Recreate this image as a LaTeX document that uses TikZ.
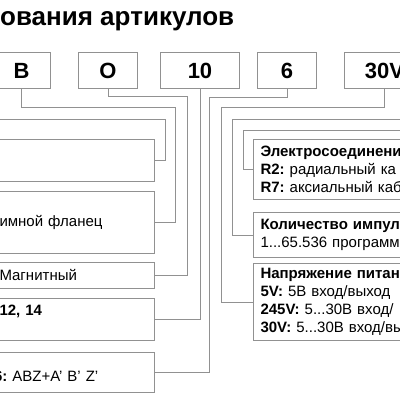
\documentclass[tikz,border=0pt]{standalone}
\usepackage{fontspec}
\setmainfont{Liberation Sans}
\definecolor{linegray}{RGB}{145,145,145}
\tikzset{
    code-box/.style = {draw=linegray, fill=white, line width=1pt, anchor=north west, minimum height=36pt, inner sep=0pt, font=\bfseries\fontsize{22}{26}\selectfont},
    left-box/.style = {draw=linegray, fill=white, line width=1pt, anchor=north east, text width=150pt, inner xsep=5pt, inner ysep=0pt, align=left, font=\fontsize{15}{18}\selectfont},
    right-box/.style = {draw=linegray, fill=white, line width=1pt, anchor=north west, text width=200pt, inner xsep=7pt, inner ysep=0pt, align=left, font=\fontsize{15}{18}\selectfont},
    link/.style = {draw=linegray, line width=1pt},
}
\frenchspacing
\begin{document}
\begin{tikzpicture}[x=1pt, y=-1pt]
\useasboundingbox (0,0) rectangle (400,400);
\clip (0,0) rectangle (400,400);
\node[anchor=base west, inner sep=0pt, font=\bfseries\fontsize{26}{30}\selectfont] (title) at (0,25.5) {ования артикулов};

% article code
\node[code-box, minimum width=58pt] (b) at (-8,52) {B};
\node[code-box, minimum width=59pt] (o) at (78,52) {O};
\node[code-box, minimum width=79pt] (ten) at (160,52) {10};
\node[code-box, minimum width=59pt] (six) at (257,52) {6};
\node[code-box, minimum width=80pt] (volt) at (344,52) {30V};

% left column
\node[left-box, minimum height=42pt] (d1) at (155,139) {};
\node[left-box, minimum height=62pt] (d2) at (155,191) {имной фланец};
\node[left-box, minimum height=26pt] (d3) at (155,262) {Магнитный};
\node[left-box, minimum height=42pt] (d4) at (155,298) {\textbf{12, 14}\\\mbox{}};
\node[left-box, minimum height=40pt] (d5) at (155,352) {\mbox{}\\\hspace*{-5.5pt}\textbf{6:} ABZ+A' B' Z'};

% right column
\node[right-box, minimum height=60pt] (r1) at (253,139) {\textbf{Электросоединени}\\\textbf{R2:} радиальный ка\\\textbf{R7:} аксиальный каб};
\node[right-box, minimum height=45pt] (r2) at (253,212) {\textbf{Количество импул}\\1...65.536 программ};
\node[right-box, minimum height=77pt] (r3) at (253,263) {\textbf{Напряжение питан}\\\textbf{5V:} 5В вход/выход\\\textbf{245V:} 5...30В вход/\\\textbf{30V:} 5...30В вход/вы};

% links
\coordinate (off-l) at (-5,119);
\coordinate (off-r1) at (405,119);
\coordinate (off-r2) at (405,130);
\draw[link] (off-l) -- (165,119) |- (d1.east);
\draw[link] (b.south) |- (175,107) |- (d2.east);
\draw[link] (o.south) |- (187,96) |- (d3.east);
\draw[link] (ten.south) |- (d4.east);
\draw[link] (six.south) |- (209,97) |- (d5.east);
\draw[link] (volt.south) |- (221,107) |- (r3.west);
\draw[link] (off-r1) -- (232,119) |- (r2.west);
\draw[link] (off-r2) -- (243,130) |- (r1.west);
\end{tikzpicture}
\end{document}
